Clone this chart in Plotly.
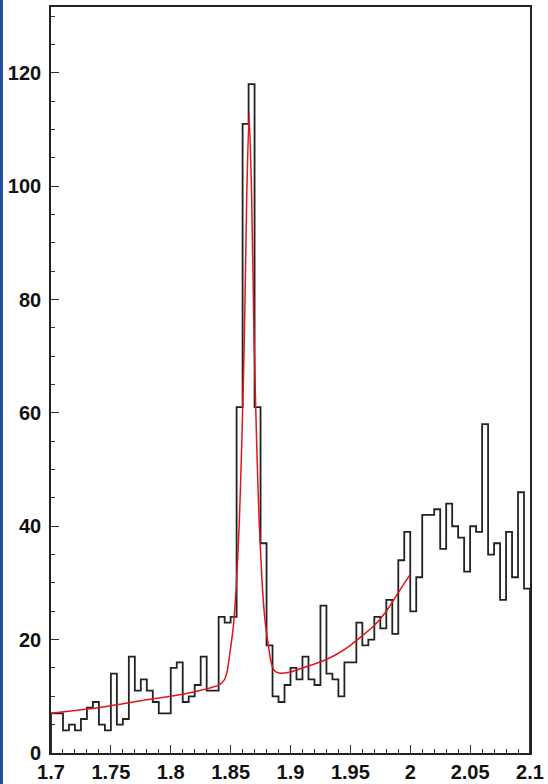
import plotly.graph_objects as go

# Histogram: 80 bins of width 0.005 from 1.70 to 2.10
bin_lo = 1.70
bin_width = 0.005
counts = [7, 7, 4, 5, 4, 6, 8, 9, 5, 4,
          14, 5, 6, 17, 11, 13, 11, 9, 7, 7,
          15, 16, 9, 10, 12, 17, 11, 11, 24, 23,
          24, 61, 111, 118, 61, 37, 19, 10, 9, 12,
          15, 13, 17, 13, 12, 26, 14, 13, 10, 16,
          16, 23, 19, 20, 24, 22, 27, 21, 34, 39,
          25, 31, 42, 42, 43, 36, 44, 40, 38, 32,
          40, 39, 58, 35, 37, 27, 39, 31, 46, 29]

# Fit curve
fit_x = [1.700, 1.720, 1.740, 1.760, 1.780, 1.800, 1.820, 1.8406, 1.8447, 1.8472,
         1.8497, 1.8522, 1.8547, 1.8572, 1.8593, 1.8614, 1.8635, 1.8654, 1.8675,
         1.8696, 1.8717, 1.8738, 1.8763, 1.8788, 1.8813, 1.8838, 1.8863, 1.8904,
         1.900, 1.910, 1.920, 1.930, 1.940, 1.950, 1.960, 1.970, 1.980, 1.990, 2.000]
fit_y = [7.0, 7.5, 8.0, 8.7, 9.4, 10.0, 10.8, 12.0, 12.9, 14.5,
         18.1, 22.2, 29.3, 40.4, 54.5, 72.5, 98.6, 112.7, 98.8,
         72.9, 54.9, 41.0, 30.1, 23.2, 19.3, 16.0, 14.6, 14.1,
         14.3, 15.0, 15.7, 16.5, 17.6, 19.0, 20.7, 22.5, 25.0, 28.3, 31.5]

x_ticks = [1.7, 1.75, 1.8, 1.85, 1.9, 1.95, 2.0, 2.05, 2.1]
x_tick_labels = ["1.7", "1.75", "1.8", "1.85", "1.9", "1.95", "2", "2.05", "2.1"]
y_ticks = [0, 20, 40, 60, 80, 100, 120]
y_tick_labels = ["0", "20", "40", "60", "80", "100", "120"]

n = len(counts)
edges = [bin_lo + i * bin_width for i in range(n + 1)]
hx = [edges[0]] + edges[:-1] + [edges[-1], edges[-1]]
hy = [0] + counts + [counts[-1], 0]

fig = go.Figure()
fig.add_trace(go.Scatter(x=hx, y=hy, mode="lines", line_shape="hv",
                         line=dict(color="#222222", width=1.8),
                         hoverinfo="skip", showlegend=False))
fig.add_trace(go.Scatter(x=fit_x, y=fit_y, mode="lines", line_shape="spline",
                         line=dict(color="#e3141b", width=1.5, smoothing=0.6),
                         hoverinfo="skip", showlegend=False))

tickfont = dict(family="Liberation Sans, Arial, sans-serif", size=20,
                color="#111111", weight="bold")

fig.update_layout(
    width=548, height=784, autosize=False,
    margin=dict(l=51, r=18, t=7, b=31, pad=0),
    paper_bgcolor="white", plot_bgcolor="white",
    showlegend=False,
    xaxis=dict(range=[1.7, 2.1], tickmode="array", tickvals=x_ticks,
               ticktext=x_tick_labels, ticks="inside", ticklen=8,
               tickwidth=1, tickcolor="#333", showgrid=False, zeroline=False,
               showline=True, linecolor="#222", linewidth=1.6, mirror=True,
               tickfont=tickfont, ticklabelstandoff=0, automargin=False,
               minor=dict(ticks="inside", dtick=0.01, tick0=1.7, ticklen=4,
                          tickcolor="#333", showgrid=False)),
    yaxis=dict(range=[0, 131.6], tickmode="array", tickvals=y_ticks,
               ticktext=y_tick_labels, ticks="inside", ticklen=8,
               tickwidth=1, tickcolor="#333", showgrid=False, zeroline=False,
               showline=True, linecolor="#222", linewidth=1.6, mirror=True,
               tickfont=tickfont, ticklabelstandoff=4, automargin=False,
               minor=dict(ticks="inside", dtick=5, tick0=0, ticklen=4,
                          tickcolor="#333", showgrid=False)),
    shapes=[dict(type="rect", xref="paper", yref="paper",
                 x0=-0.1065, x1=-0.1003, y0=-0.05, y1=1.01,
                 fillcolor="#1f4f9c", line=dict(width=0), layer="above")],
)

fig.write_html("out.html", config={"displayModeBar": False},
               post_script="document.body.style.margin='0';document.body.style.overflow='hidden';")
